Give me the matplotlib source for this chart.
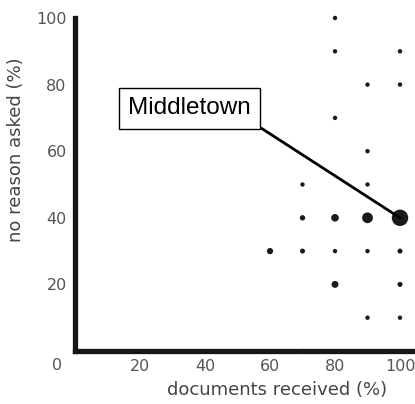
import matplotlib
matplotlib.use("Agg")
import matplotlib.pyplot as plt

# documents received (%) vs no reason asked (%), marker area ~ number of towns
docs_received = [80, 80, 100, 90, 100, 80, 90, 70, 90,
                 70, 80, 90, 100,
                 60, 70, 80, 90, 100,
                 80, 100, 90, 100, 70]
no_reason = [100, 90, 90, 80, 80, 70, 60, 50, 50,
             40, 40, 40, 40,
             30, 30, 30, 30, 30,
             20, 20, 10, 10, 0]
counts = [1, 1, 1, 1, 1, 1, 1, 1, 1,
          1.5, 3, 6, 14,
          2, 1.3, 1, 1, 1.3,
          2.5, 1.3, 1, 1, 1]

x_ticks = [20, 40, 60, 80, 100]
y_ticks = [20, 40, 60, 80, 100]

highlight = "Middletown"
highlight_xy = (100, 40)

fig = plt.figure(figsize=(4.15, 4.04), dpi=100)
ax = fig.add_axes([75 / 415, 1 - 351 / 404, 340 / 415, 333 / 404])

ax.scatter(docs_received, no_reason, s=[c * 10 for c in counts],
           color="#1a1a1a", edgecolors="none", zorder=3, clip_on=False)

ax.set_xlim(0, 340 / 3.25)
ax.set_ylim(0, 100)

for side in ["top", "right"]:
    ax.spines[side].set_visible(False)
for side in ["left", "bottom"]:
    ax.spines[side].set_linewidth(3.8)
    ax.spines[side].set_color("#161616")

ax.set_xticks(x_ticks)
ax.set_yticks(y_ticks)
ax.tick_params(length=0, labelsize=11.5, labelcolor="#555555", pad=6)
ax.tick_params(axis="y", pad=6)
ax.text(-4, -2, "0", ha="right", va="top", fontsize=11.5, color="#555555",
        clip_on=False)

fig.text(277 / 415, 1 - 390 / 404, "documents received (%)", ha="center",
         va="center", fontsize=13, color="#444444")
fig.text(16 / 415, 1 - 150 / 404, "no reason asked (%)", ha="center",
         va="center", rotation=90, fontsize=13, color="#444444")

# label box, then a leader line from its lower-right corner to the point
fig.text(189.5 / 415, 1 - 108.5 / 404, highlight, ha="center", va="center",
         fontsize=17.5, family="Liberation Sans", zorder=5,
         bbox=dict(boxstyle="square,pad=0.38", fc="white", ec="black", lw=1))
ax.annotate("", xy=highlight_xy, xytext=(261 / 415, 1 - 128 / 404),
            textcoords="figure fraction",
            arrowprops=dict(arrowstyle="-", color="black", lw=2,
                            shrinkA=0, shrinkB=0))

fig.savefig("out.png", dpi=100)
